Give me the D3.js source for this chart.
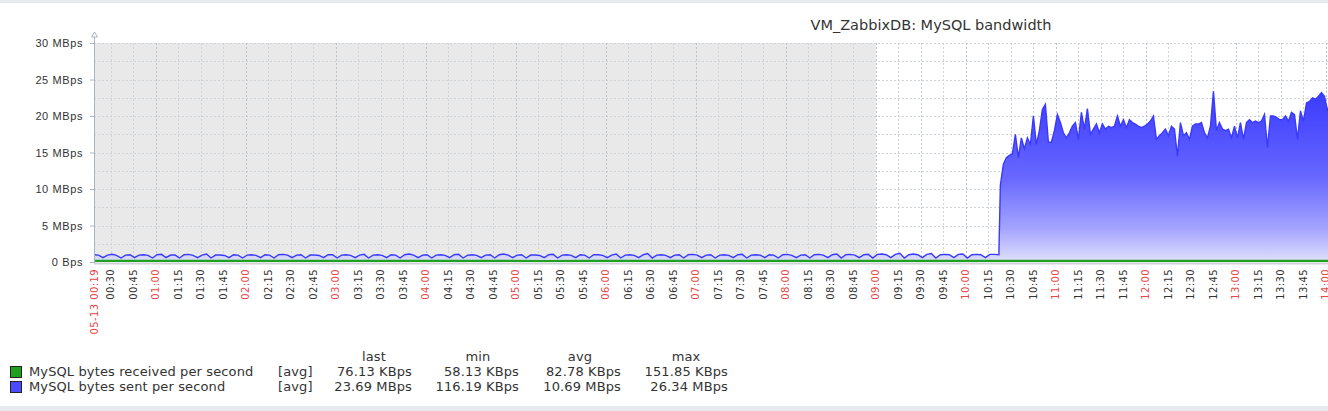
<!DOCTYPE html>
<html>
<head>
<meta charset="utf-8">
<title>VM_ZabbixDB: MySQL bandwidth</title>
<script src="https://d3js.org/d3.v7.min.js"></script>
<style>
  body { margin: 0; background: #fff; }
  svg { display: block; font-family: "DejaVu Sans", sans-serif; }
  .band { fill: #e8ebee; }
  .grid line { stroke: #cdd3d9; stroke-width: 1; stroke-dasharray: 2,2; shape-rendering: crispEdges; }
  .grid line.hour { stroke: #b9c2cb; }
  .yaxis path { display: none; }
  .yaxis line { stroke: #a9b6c2; }
  .yaxis text { font-size: 11px; fill: #333; letter-spacing: 0.6px; }
  .xlabel { font-size: 10px; fill: #333; letter-spacing: 0.4px; }
  .xlabel.hour { fill: #e64848; }
  .legend text { font-size: 13px; fill: #333; letter-spacing: 0.12px; }
</style>
</head>
<body>
<script>

// ---- data ----
// series names and legend stats
var seriesNames = ["MySQL bytes received per second", "MySQL bytes sent per second"],
    seriesFunc = ["[avg]", "[avg]"],
    seriesColors = ["#1fa01f", "#4a4aff"],
    lastVals = ["76.13 KBps", "23.69 MBps"],
    minVals = ["58.13 KBps", "116.19 KBps"],
    avgVals = ["82.78 KBps", "10.69 MBps"],
    maxVals = ["151.85 KBps", "26.34 MBps"];

var yTicks = [0, 5, 10, 15, 20, 25, 30];
var yTickLabels = ["0 Bps", "5 MBps", "10 MBps", "15 MBps", "20 MBps", "25 MBps", "30 MBps"];

// bytes sent (MBps), every 3 min from 00:19 to 10:22
var sentLow = [
  1.0, 0.95, 0.6, 0.95, 1.05, 0.9, 0.55, 0.95, 1.0, 0.6, 0.95, 1.0, 0.9, 0.55, 1.0, 1.05, 0.6, 0.95, 0.95, 0.55,
  1.0, 1.05, 0.9, 0.6, 0.95, 1.1, 0.55, 0.95, 0.95, 0.9, 0.6, 1.0, 0.95, 0.55, 0.95, 1.0, 0.9, 0.6, 1.0, 0.95,
  0.55, 1.0, 1.05, 0.95, 0.6, 0.95, 1.0, 0.55, 0.95, 0.95, 0.9, 0.6, 1.0, 1.0, 0.55, 0.95, 1.0, 0.9, 0.6, 0.95,
  1.05, 0.55, 0.95, 1.0, 0.9, 0.6, 1.0, 0.95, 0.55, 1.0, 1.1, 0.95, 0.6, 0.95, 1.0, 0.55, 0.95, 1.0, 0.9, 0.6,
  1.0, 1.05, 0.55, 0.95, 1.0, 0.9, 0.6, 0.95, 1.0, 0.55, 1.0, 1.1, 0.95, 0.6, 0.95, 1.0, 0.55, 0.95, 0.95, 0.9,
  0.6, 1.0, 1.05, 0.55, 0.95, 1.0, 0.9, 0.6, 1.0, 0.95, 0.55, 1.0, 1.0, 0.9, 0.6, 0.95, 1.1, 0.55, 0.95, 1.0,
  0.9, 0.6, 1.0, 1.15, 0.55, 0.95, 1.0, 0.9, 0.6, 0.95, 1.0, 0.55, 1.0, 1.05, 0.95, 0.6, 0.95, 1.0, 0.55, 0.95,
  1.0, 0.9, 0.6, 1.0, 1.05, 0.55, 0.95, 1.0, 0.95, 0.6, 1.0, 0.95, 0.55, 1.0, 1.05, 0.9, 0.6, 0.95, 1.0, 0.55,
  1.0, 1.05, 0.95, 0.6, 1.0, 1.1, 0.55, 1.0, 1.05, 0.95, 0.6, 1.0, 1.05, 0.55, 1.05, 1.1, 1.0, 0.6, 1.05, 1.2,
  0.55, 1.0, 1.1, 1.0, 0.6, 1.05, 1.15, 0.55, 1.0, 1.05, 1.0, 0.6, 1.05, 1.1, 0.55, 1.0, 1.05, 1.0, 0.6, 1.05,
  1.05, 1.0
];

// bytes sent (MBps), every 2 min from 10:23
var sentHigh = [
  10.5, 13.4, 14.3, 14.6, 14.8, 17.5, 14.3, 17.0, 15.5, 17.0, 16.1, 20.0, 16.1, 18.0, 20.9, 21.6, 16.4, 16.4, 18.0, 20.2,
  19.1, 17.7, 17.0, 17.7, 18.6, 19.1, 16.8, 20.5, 18.2, 21.0, 17.5, 18.2, 18.9, 17.7, 18.9, 18.2, 18.6, 18.4, 18.6, 20.0,
  18.6, 19.5, 18.4, 19.5, 19.1, 18.9, 18.6, 18.4, 18.6, 18.9, 19.3, 20.0, 16.8, 17.3, 17.7, 18.2, 17.3, 18.6, 18.2, 14.5,
  19.1, 17.3, 17.7, 16.8, 18.6, 18.9, 18.9, 19.1, 17.7, 17.0, 18.6, 23.4, 18.0, 19.1, 18.2, 18.0, 18.2, 17.0, 18.6, 17.0,
  19.1, 16.8, 19.1, 19.5, 19.1, 19.3, 19.1, 19.3, 20.2, 15.7, 20.0, 20.0, 19.8, 19.5, 19.5, 20.0, 19.3, 20.5, 20.2, 16.8,
  20.7, 19.3, 21.8, 22.0, 22.5, 22.3, 22.7, 23.2, 22.7, 20.7, 22.3
];

// bytes received (KBps), every 30 min from 00:19
var received = [76, 82, 79, 85, 74, 81, 88, 77, 80, 83, 72, 86, 79, 81, 75,
                84, 90, 78, 82, 95, 88, 80, 85, 79, 92, 83, 76, 81, 78, 76];

var title = "VM_ZabbixDB: MySQL bandwidth";
var startLabel = "05-13 00:19";

// ---- layout ----
var w = 1328, h = 411;
var plot = {left: 94, right: 1328, top: 43, bottom: 262};

var parse = d3.timeParse("%H:%M");
var tStart = parse("00:19"), tEnd = parse("14:01"),
    tWork = parse("09:00"), tHigh = parse("10:23");

var x = d3.scaleTime().domain([tStart, tEnd]).range([plot.left, 1327.5]);
var y = d3.scaleLinear().domain([0, 30]).range([plot.bottom, plot.top]);

var sent = sentLow.map(function(v, i) { return {t: d3.timeMinute.offset(tStart, 3 * i), v: v}; })
  .concat(sentHigh.map(function(v, i) { return {t: d3.timeMinute.offset(tHigh, 2 * i), v: v}; }));
var recv = received.map(function(v, i) { return {t: d3.timeMinute.offset(tStart, 30 * i), v: v / 1024}; });

var svg = d3.select("body").append("svg")
    .attr("width", w)
    .attr("height", h);

// page bands
svg.append("rect").attr("class", "band").attr("x", 0).attr("y", 0).attr("width", w).attr("height", 3);
svg.append("rect").attr("class", "band").attr("x", 0).attr("y", 406).attr("width", w).attr("height", 5);

var defs = svg.append("defs");
defs.append("clipPath").attr("id", "clip")
  .append("rect").attr("x", plot.left).attr("y", 0).attr("width", plot.right - plot.left).attr("height", plot.bottom + 2);

var grad = defs.append("linearGradient").attr("id", "fade")
    .attr("gradientUnits", "userSpaceOnUse")
    .attr("x1", 0).attr("x2", 0).attr("y1", y(23)).attr("y2", y(0));
grad.append("stop").attr("offset", 0).attr("stop-color", "#3c3cff");
grad.append("stop").attr("offset", 0.5).attr("stop-color", "#6868ff");
grad.append("stop").attr("offset", 0.8).attr("stop-color", "#a4a4ff");
grad.append("stop").attr("offset", 1).attr("stop-color", "#e0e0fb");

// non-working time shading
svg.append("rect")
    .attr("x", x(tStart)).attr("y", plot.top)
    .attr("width", x(tWork) - x(tStart)).attr("height", plot.bottom - plot.top)
    .attr("fill", "#e9e9e9");

// grid
var grid = svg.append("g").attr("class", "grid");
grid.selectAll("line.h")
    .data(d3.range(2.5, 30.1, 2.5))
  .enter().append("line")
    .attr("x1", plot.left).attr("x2", plot.right)
    .attr("y1", function(d) { return Math.round(y(d)) + 0.5; })
    .attr("y2", function(d) { return Math.round(y(d)) + 0.5; });

var ticks = d3.timeMinute.every(15).range(d3.timeMinute.offset(tStart, 1), tEnd);
grid.selectAll("line.v")
    .data(ticks)
  .enter().append("line")
    .attr("class", function(d) { return d.getMinutes() === 0 ? "hour" : null; })
    .attr("x1", function(d) { return Math.round(x(d)) + 0.5; })
    .attr("x2", function(d) { return Math.round(x(d)) + 0.5; })
    .attr("y1", plot.top).attr("y2", plot.bottom);

// series
var data = svg.append("g").attr("clip-path", "url(#clip)");

data.append("path")
    .datum(sent)
    .attr("fill", "url(#fade)")
    .attr("d", d3.area().x(function(d) { return x(d.t); }).y0(y(0)).y1(function(d) { return y(d.v); }));

data.append("path")
    .datum(sent)
    .attr("fill", "none")
    .attr("stroke", "#3a3aff")
    .attr("stroke-width", 1.4)
    .attr("d", d3.line().x(function(d) { return x(d.t); }).y(function(d) { return y(d.v); }));

// x axis line
svg.append("line")
    .attr("x1", plot.left).attr("x2", plot.right)
    .attr("y1", plot.bottom + 1.5).attr("y2", plot.bottom + 1.5)
    .attr("stroke", "#cdd2d7").attr("stroke-width", 2);

data.append("path")
    .datum(recv)
    .attr("fill", "none")
    .attr("stroke", "#1fa01f")
    .attr("stroke-width", 2.2)
    .attr("d", d3.line().x(function(d) { return x(d.t); }).y(function(d) { return y(d.v) - 0.5; }));

// y axis
svg.append("g")
    .attr("class", "yaxis")
    .attr("transform", "translate(" + plot.left + ",0)")
    .call(d3.axisLeft(y).tickValues(yTicks).tickSize(4).tickPadding(7)
      .tickFormat(function(d, i) { return yTickLabels[i]; }));

svg.append("line")
    .attr("x1", plot.left + 0.5).attr("x2", plot.left + 0.5)
    .attr("y1", 37).attr("y2", plot.bottom + 1)
    .attr("stroke", "#a9b6c2");
svg.append("path")
    .attr("d", "M" + (plot.left + 0.5) + ",32 L" + (plot.left + 3.5) + ",37 L" + (plot.left - 2.5) + ",37 Z")
    .attr("fill", "#fff").attr("stroke", "#a9b6c2");

// x labels
var xl = svg.append("g");
xl.append("text")
    .attr("class", "xlabel hour")
    .attr("transform", "translate(" + x(tStart) + ",269) rotate(-90)")
    .attr("dy", "0.35em")
    .attr("text-anchor", "end")
    .text(startLabel);
xl.selectAll("text.t")
    .data(ticks)
  .enter().append("text")
    .attr("class", function(d) { return d.getMinutes() === 0 ? "xlabel hour" : "xlabel"; })
    .attr("transform", function(d) { return "translate(" + x(d) + ",269) rotate(-90)"; })
    .attr("dy", "0.35em")
    .attr("text-anchor", "end")
    .text(d3.timeFormat("%H:%M"));

// title
svg.append("text")
    .attr("x", 931).attr("y", 30)
    .attr("text-anchor", "middle")
    .style("font-size", "14.5px")
    .style("fill", "#333")
    .text(title);

// legend
var lg = svg.append("g").attr("class", "legend");
var cols = [
  {head: "last", vals: lastVals, right: 412, mid: 374},
  {head: "min", vals: minVals, right: 519, mid: 478},
  {head: "avg", vals: avgVals, right: 621, mid: 580},
  {head: "max", vals: maxVals, right: 728, mid: 686}
];
cols.forEach(function(c) {
  lg.append("text").attr("x", c.mid).attr("y", 361).attr("text-anchor", "middle").text(c.head);
});
seriesNames.forEach(function(name, i) {
  var by = 376 + i * 15;
  lg.append("rect")
      .attr("x", 10.5).attr("y", by - 9.5).attr("width", 11).attr("height", 11)
      .attr("fill", seriesColors[i]).attr("stroke", "#222");
  lg.append("text").attr("x", 29).attr("y", by).text(name);
  lg.append("text").attr("x", 278).attr("y", by).text(seriesFunc[i]);
  cols.forEach(function(c) {
    lg.append("text").attr("x", c.right).attr("y", by).attr("text-anchor", "end").text(c.vals[i]);
  });
});

</script>
</body>
</html>
